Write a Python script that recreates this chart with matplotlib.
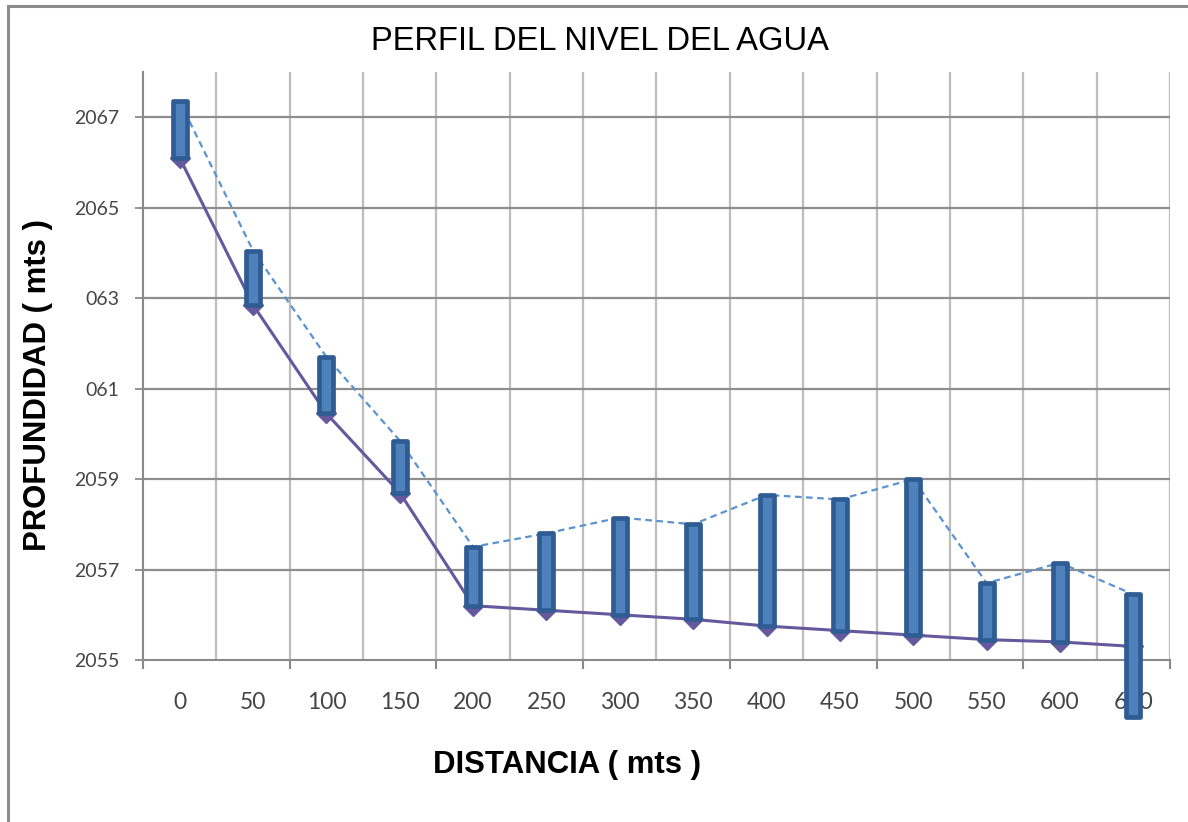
import numpy as np
import matplotlib
matplotlib.use("Agg")
import matplotlib.pyplot as plt
from matplotlib.lines import Line2D
import matplotlib.transforms as mtransforms

# distancia (m) y cotas
distancias = [0, 50, 100, 150, 200, 250, 300, 350, 400, 450, 500, 550, 600, 650]
nivel_agua = [2067.35, 2064.05, 2061.7, 2059.85, 2057.5, 2057.8, 2058.15,
              2058.0, 2058.65, 2058.55, 2059.0, 2056.7, 2057.15, 2056.45]
nivel_terreno = [2066.1, 2062.85, 2060.45, 2058.7, 2056.2, 2056.1, 2056.0,
                 2055.9, 2055.75, 2055.65, 2055.55, 2055.45, 2055.4, 2055.3]
base_columna = [2066.1, 2062.85, 2060.45, 2058.7, 2056.2, 2056.1, 2056.0,
                2055.9, 2055.75, 2055.65, 2055.55, 2055.45, 2055.4, 2053.75]
y_ticks = [2055, 2057, 2059, 2061, 2063, 2065, 2067]
y_labels = ["2055", "2057", "2059", "061", "063", "2065", "2067"]

fig = plt.figure(figsize=(11.88, 8.22), dpi=100)
ax = fig.add_axes([143 / 1188, 1 - 660 / 822, (1170 - 143) / 1188, (660 - 72) / 822])

x = np.arange(len(distancias))
alto = np.array(nivel_agua) - np.array(base_columna)

# lineas de fondo
ax.plot(x, nivel_agua, color="#5B93D0", lw=1.6, ls=(0, (3, 2)), zorder=3)
ax.plot(x, nivel_terreno, color="#65589C", lw=2.2, marker="D", ms=10,
        mfc="#65589C", mec="#65589C", zorder=3)

# columnas tipo cilindro
ax.bar(x, alto, bottom=base_columna, width=0.19, color="#4F81BD",
       edgecolor="#2F5D93", linewidth=3.4, joinstyle="round", zorder=4,
       clip_on=False)

ax.set_xlim(-0.5, len(distancias) - 0.5)
ax.set_ylim(2055, 2068)

# rejilla
for b in np.arange(0.5, len(distancias), 1.0):
    ax.axvline(b, color="#BDBDBD", lw=1.6, zorder=0)
for yt in y_ticks[1:]:
    ax.axhline(yt, color="#8E8E8E", lw=1.6, zorder=0)

ax.spines["top"].set_visible(False)
ax.spines["right"].set_visible(False)
ax.spines["left"].set_color("#8A8A8A")
ax.spines["bottom"].set_color("#8A8A8A")
ax.spines["left"].set_linewidth(1.5)
ax.spines["bottom"].set_linewidth(1.5)

ax.set_xticks(x)
ax.set_xticklabels([str(d) for d in distancias], fontsize=16.5, family="Lato",
                   color="#454545")
ax.tick_params(axis="x", length=0, pad=23)
ax.set_yticks(y_ticks)
ax.set_yticklabels(y_labels, fontsize=14, family="Lato", color="#454545")
ax.tick_params(axis="y", length=6, width=1.3, color="#8A8A8A", pad=11)

# marcas del eje x cada dos categorias
trans = mtransforms.blended_transform_factory(ax.transData, ax.transAxes)
for b in np.arange(-0.5, len(distancias), 2.0):
    ax.add_line(Line2D([b, b], [0, -0.014], transform=trans, color="#8A8A8A",
                       lw=1.5, clip_on=False))

fig.text(600 / 1188, 1 - 42 / 822, "PERFIL DEL NIVEL DEL AGUA", ha="center",
         va="center", fontsize=23.6, family="Liberation Sans")
fig.text(567 / 1188, 1 - 765 / 822, "DISTANCIA ( mts )", ha="center",
         va="center", fontsize=22.4, family="Liberation Sans", weight="bold")
fig.text(38 / 1188, 1 - 385 / 822, "PROFUNDIDAD ( mts )", ha="center",
         va="center", rotation=90, fontsize=22.4, family="Liberation Sans",
         weight="bold")

# marco del area del grafico
fig.add_artist(Line2D([8 / 1188, 8 / 1188], [0, 1 - 6 / 822], color="#8C8C8C", lw=2.2))
fig.add_artist(Line2D([8 / 1188, 1], [1 - 6 / 822, 1 - 6 / 822], color="#8C8C8C", lw=2.2))

fig.savefig("out.png", dpi=100)
